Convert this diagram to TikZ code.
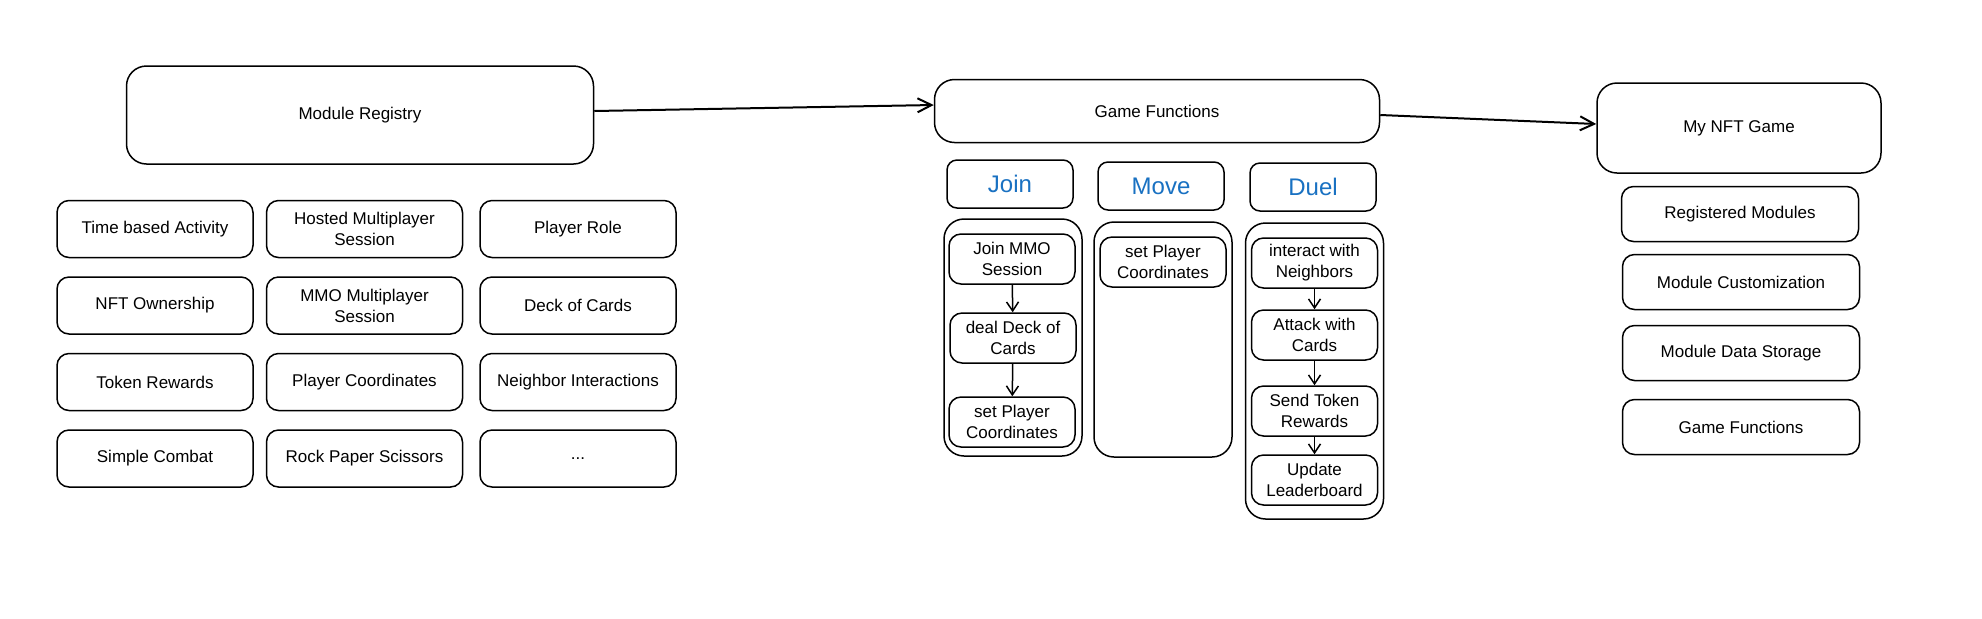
\documentclass[tikz,border=0pt]{standalone}
\usepackage{fontspec}
\setmainfont{Liberation Sans}
\usetikzlibrary{positioning,arrows.meta}
\definecolor{fnblue}{HTML}{1971C2}
\tikzset{
	>={Straight Barb[length=7pt,width=7pt]}
}

\begin{document}
\begin{tikzpicture}[
x = 0.5pt, y = -0.5pt,
line width = 0.75pt,
every node/.style = {
	font = \fontsize{8.5}{10.5}\selectfont
},
module/.style = {
	draw,
	rounded corners = 6pt,
	align = center,
	minimum width = 98pt,
	minimum height = 28.5pt
},
big module/.style = {
	module,
	rounded corners = 10pt
},
fnhead/.style = {
	draw,
	rounded corners = 5pt,
	minimum width = 63pt,
	minimum height = 24pt,
	text = fnblue,
	font = \fontsize{12}{14}\selectfont
},
fngroup/.style = {
	draw,
	rounded corners = 10pt,
	minimum width = 69pt
},
fnstep/.style = {
	module,
	minimum width = 63pt,
	minimum height = 25pt,
	inner sep = 2pt
},
regdep/.style = {
	->,
	line width = 1pt
},
flowdep/.style = {
	-{Straight Barb[length=4.5pt,width=6pt]}
}
]
\fill [white] (0,0) rectangle (1982,618);
\useasboundingbox (0,0) rectangle (1982,618);

% registry and its modules
\node [big module, minimum width=233.5pt, minimum height=49pt] (registry) at (360,115) {Module Registry};

\node [module] (timed) at (155,229) {Time based Activity};
\node [module, below = 9pt of timed] (ownership) {NFT Ownership};
\node [module, below = 9pt of ownership] (rewards) {Token Rewards};
\node [module, below = 9pt of rewards] (combat) {Simple Combat};

\node [module, right = 6pt of timed] (hosted) {Hosted Multiplayer\\Session};
\node [module, right = 6pt of ownership] (mmo) {MMO Multiplayer\\Session};
\node [module, right = 6pt of rewards] (coords) {Player Coordinates};
\node [module, right = 6pt of combat] (rps) {Rock Paper Scissors};

\node [module, right = 8pt of hosted] (role) {Player Role};
\node [module, right = 8pt of mmo] (deck) {Deck of Cards};
\node [module, right = 8pt of coords] (neighbors) {Neighbor Interactions};
\node [module, right = 8pt of rps] (more) {...};

% game functions
\node [big module, minimum width=222.5pt, minimum height=31.5pt] (functions) at (1157,111) {Game Functions};

\node [fnhead] (join) at (1010,184) {Join};
\node [fnhead] (move) at (1161,186) {Move};
\node [fnhead] (duel) at (1313,187) {Duel};

\node [fngroup, minimum height=118.5pt] (joinbox) at (1013,337.5) {};
\node [fngroup, minimum height=117.5pt] (movebox) at (1163,339.5) {};
\node [fngroup, minimum height=148pt] (duelbox) at (1314.5,371) {};

\node [fnstep] (joinmmo) at (1012,259) {Join MMO\\Session};
\node [fnstep] (deal) at (1013,338) {deal Deck of\\Cards};
\node [fnstep] (joinset) at (1012,422) {set Player\\Coordinates};

\node [fnstep] (moveset) at (1163,262) {set Player\\Coordinates};

\node [fnstep] (interact) at (1314.5,263) {interact with\\Neighbors};
\node [fnstep] (attack) at (1314.5,335) {Attack with\\Cards};
\node [fnstep] (send) at (1314.5,411) {Send Token\\Rewards};
\node [fnstep] (update) at (1314.5,480) {Update\\Leaderboard};

% the game
\node [big module, minimum width=142pt, minimum height=45pt] (game) at (1739,128) {My NFT Game};
\node [module, minimum width=118.5pt, minimum height=27.5pt] (registered) at (1740,214) {Registered Modules};
\node [module, minimum width=118.5pt, minimum height=27.5pt] (custom) at (1741,282) {Module Customization};
\node [module, minimum width=118.5pt, minimum height=27.5pt] (storage) at (1741,353) {Module Data Storage};
\node [module, minimum width=118.5pt, minimum height=27.5pt] (gamefns) at (1741,427) {Game Functions};

\draw[regdep] ([yshift=2pt]registry.east) -- ([yshift=3pt]functions.west);
\draw[regdep] ([yshift=-2pt]functions.east) -- ([yshift=2pt]game.west);

\draw[flowdep] (joinmmo) -- (deal);
\draw[flowdep] (deal) -- (joinset);
\draw[flowdep] (interact) -- (attack);
\draw[flowdep] (attack) -- (send);
\draw[flowdep] (send) -- (update);

\end{tikzpicture}
\end{document}
